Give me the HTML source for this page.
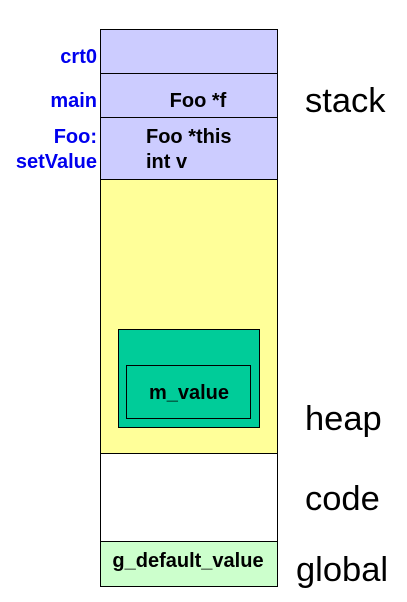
<!DOCTYPE html>
<html><head><style>html,body{margin:0;padding:0;background:#fff;}</style></head>
<body>
<svg width="407" height="597" xmlns="http://www.w3.org/2000/svg" font-family="Liberation Sans, Arial, sans-serif">
<rect x="100.5" y="29.5" width="177" height="150" fill="#ccccff" stroke="#000"/>
<line x1="100" y1="73.5" x2="278" y2="73.5" stroke="#000"/>
<line x1="100" y1="117.5" x2="278" y2="117.5" stroke="#000"/>
<rect x="100.5" y="179.5" width="177" height="274" fill="#ffff99" stroke="#000"/>
<rect x="100.5" y="453.5" width="177" height="88" fill="#fff" stroke="#000"/>
<rect x="100.5" y="541.5" width="177" height="45" fill="#ccffcc" stroke="#000"/>
<rect x="118.5" y="329.5" width="141" height="98" fill="#00cc99" stroke="#000"/>
<rect x="126.5" y="365.5" width="124" height="53" fill="#00cc99" stroke="#000"/>
<g font-weight="bold" font-size="20" fill="#0000ee" text-anchor="end">
<text x="97" y="63">crt0</text>
<text x="97" y="107">main</text>
<text x="97" y="143">Foo:</text>
<text x="97" y="168">setValue</text>
</g>
<g font-weight="bold" font-size="20" fill="#000">
<text x="198" y="107" text-anchor="middle">Foo *f</text>
<text x="146" y="143">Foo *this</text>
<text x="146" y="168">int v</text>
<text x="189" y="399" text-anchor="middle">m_value</text>
<text x="188" y="567" text-anchor="middle">g_default_value</text>
</g>
<g font-size="34.5" fill="#000">
<text x="305" y="112">stack</text>
<text x="305" y="430">heap</text>
<text x="305" y="510">code</text>
<text x="296" y="581">global</text>
</g>
</svg>
</body></html>
